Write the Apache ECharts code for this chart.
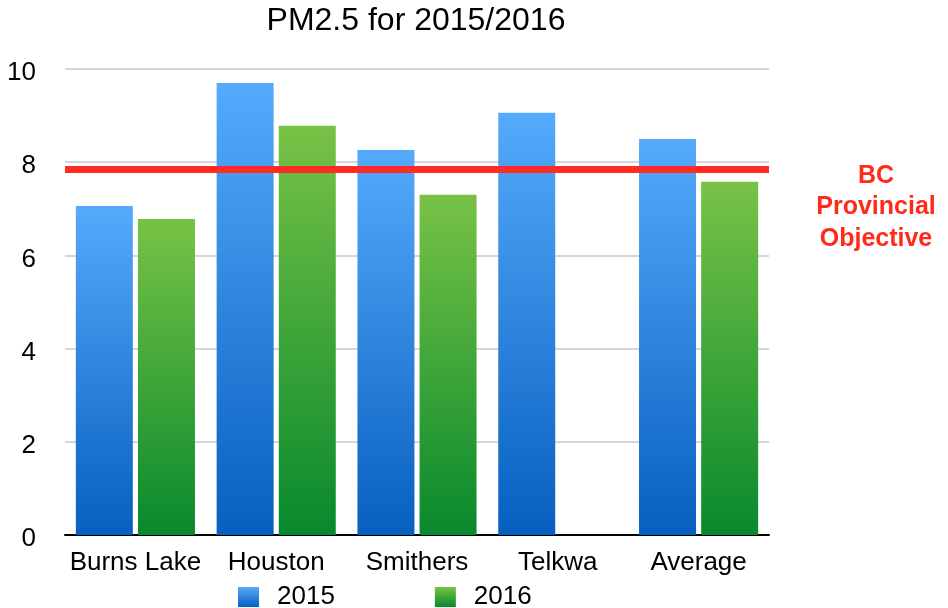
<!DOCTYPE html>
<html>
<head>
<meta charset="utf-8">
<script src="https://cdn.jsdelivr.net/npm/echarts@6/dist/echarts.min.js"></script>
<style>
html, body { margin: 0; padding: 0; background: #fff; }
#container { width: 948px; height: 608px; }
</style>
</head>
<body>
<div id="container"></div>
<script>
// 数据
var categories = ['Burns Lake', 'Houston', 'Smithers', 'Telkwa', 'Average'];
var values2015 = [7.06, 9.70, 8.26, 9.06, 8.50];
var values2016 = [6.78, 8.78, 7.30, null, 7.58];
var objective = 7.85;
var yTicks = [0, 2, 4, 6, 8, 10];

var font = 'Liberation Sans, Helvetica, Arial, sans-serif';

var blueGrad = new echarts.graphic.LinearGradient(0, 0, 0, 1, [
    {offset: 0, color: '#56aafc'},
    {offset: 1, color: '#075fbf'}
]);
var greenGrad = new echarts.graphic.LinearGradient(0, 0, 0, 1, [
    {offset: 0, color: '#78c246'},
    {offset: 1, color: '#08892d'}
]);

var dom = document.getElementById('container');
var myChart = echarts.init(dom);
var option = {
    backgroundColor: '#ffffff',
    animation: false,
    title: {
        text: 'PM2.5 for 2015/2016',
        left: 411,
        textAlign: 'center',
        top: 0,
        textStyle: {
            fontFamily: font,
            fontSize: 32,
            fontWeight: 'normal',
            color: '#000'
        }
    },
    legend: {
        data: ['2015', '2016'],
        left: 238,
        top: 584,
        padding: 0,
        itemWidth: 21,
        itemHeight: 20,
        itemGap: 100,
        icon: 'rect',
        textStyle: {
            fontFamily: font,
            fontSize: 26,
            color: '#000',
            padding: [0, 0, 0, 13]
        }
    },
    grid: {
        left: 65,
        right: 179,
        top: 69,
        bottom: 73
    },
    xAxis: {
        type: 'category',
        data: categories,
        axisLine: { lineStyle: { color: '#000', width: 2 } },
        axisTick: { show: false },
        axisLabel: {
            interval: 0,
            fontFamily: font,
            fontSize: 26,
            color: '#000',
            margin: 15
        }
    },
    yAxis: {
        type: 'value',
        min: yTicks[0],
        max: yTicks[yTicks.length - 1],
        interval: 2,
        axisLine: { show: false },
        axisTick: { show: false },
        axisLabel: {
            fontFamily: font,
            fontSize: 26,
            color: '#000',
            margin: 29,
            verticalAlign: 'top',
            padding: [-9, 0, 0, 0]
        },
        splitLine: { lineStyle: { color: '#d6d6d6', width: 2 } }
    },
    graphic: [{
        type: 'text',
        x: 876,
        y: 160,
        style: {
            text: 'BC\nProvincial\nObjective',
            align: 'center',
            verticalAlign: 'top',
            fill: '#ff2a1a',
            font: 'bold 25px ' + font,
            lineHeight: 31.5
        }
    }],
    series: [
        {
            name: '2015',
            type: 'bar',
            data: values2015,
            barWidth: 57,
            barGap: '9%',
            itemStyle: { color: blueGrad },
            markLine: {
                silent: true,
                symbol: 'none',
                label: { show: false },
                lineStyle: { color: '#ff2c24', width: 7, type: 'solid' },
                data: [{ yAxis: objective }]
            },
            z: 2
        },
        {
            name: '2016',
            type: 'bar',
            data: values2016,
            barWidth: 57,
            barGap: '9%',
            itemStyle: { color: greenGrad },
            z: 2
        }
    ]
};
myChart.setOption(option, true);
</script>
</body>
</html>
